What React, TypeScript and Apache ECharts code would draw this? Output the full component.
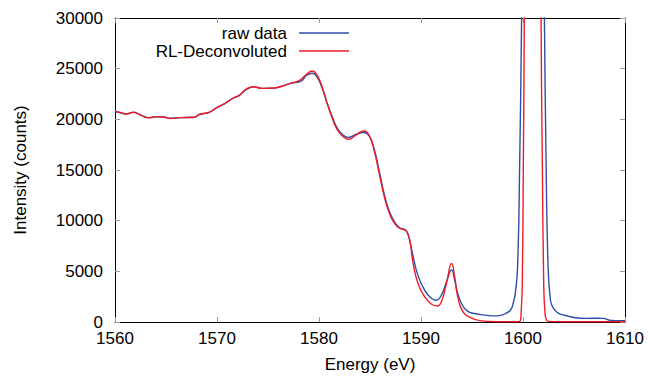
import React, { useEffect, useRef } from "react";
import * as echarts from "echarts";

// Measured spectrum (eV, counts)
const rawEnergy = [
  1560.0, 1560.5, 1561.1, 1561.8, 1562.5, 1563.3, 1564.1, 1564.75, 1565.4, 1566.4,
  1567.7, 1568.35, 1569.2, 1570.0, 1570.8, 1571.65, 1572.15, 1572.97, 1573.6, 1574.4,
  1575.55, 1576.2, 1577.2, 1578.2, 1578.8, 1579.35, 1579.8, 1580.3, 1580.8, 1581.3,
  1581.8, 1582.3, 1582.9, 1583.6, 1584.4, 1584.9, 1585.4, 1585.9, 1586.4, 1586.9,
  1587.4, 1587.9, 1588.4, 1588.7, 1589.2, 1589.7, 1590.35, 1591.0, 1591.5, 1592.0,
  1592.5, 1593.0, 1593.3, 1593.6, 1594.1, 1594.6, 1595.1, 1596.1, 1597.4, 1598.0,
  1598.4, 1598.8, 1599.05, 1599.25, 1599.47, 1599.67, 1599.86, 1600.1, 1600.5, 1601.0,
  1601.5, 1601.9, 1602.1, 1602.27, 1602.46, 1602.69, 1602.9, 1603.11, 1603.5, 1604.0,
  1605.0, 1606.3, 1607.2, 1607.9, 1608.4, 1608.9, 1609.5, 1610.0,
];
const rawCounts = [
  20780, 20650, 20530, 20690, 20430, 20170, 20260, 20230, 20100, 20170,
  20200, 20500, 20660, 21150, 21580, 22120, 22340, 23000, 23200, 23060,
  23080, 23220, 23550, 23750, 24350, 24550, 24200, 23100, 21600, 20250,
  19100, 18500, 18220, 18500, 18700, 18400, 17100, 14900, 12600, 10900,
  9900, 9300, 9140, 8750, 6600, 4600, 3160, 2340, 2150, 2660,
  3980, 5130, 4140, 2830, 1580, 1050, 860, 700, 600, 700,
  900, 1200, 1900, 2900, 5460, 15330, 29800, 52000, 85000, 95000,
  85000, 52000, 30000, 15330, 5460, 2170, 1500, 1180, 850, 690,
  450, 360, 370, 360, 200, 140, 130, 130,
];

// Richardson-Lucy deconvoluted spectrum (eV, counts)
const rlEnergy = [
  1560.0, 1560.5, 1561.1, 1561.8, 1562.5, 1563.3, 1564.1, 1564.75, 1565.4, 1566.4,
  1567.7, 1568.35, 1569.2, 1570.0, 1570.8, 1571.65, 1572.15, 1572.97, 1573.6, 1574.4,
  1575.55, 1576.2, 1577.2, 1578.06, 1578.7, 1579.35, 1579.8, 1580.3, 1580.8, 1581.3,
  1581.8, 1582.3, 1582.9, 1583.6, 1584.4, 1584.9, 1585.4, 1585.9, 1586.4, 1586.9,
  1587.4, 1587.9, 1588.4, 1588.6, 1588.9, 1589.2, 1589.7, 1590.35, 1591.0, 1591.6,
  1592.0, 1592.5, 1593.0, 1593.3, 1593.6, 1594.1, 1594.8, 1595.8, 1596.8, 1597.7,
  1598.7, 1599.4, 1599.73, 1599.83, 1599.93, 1600.03, 1600.13, 1600.5, 1600.95, 1601.4,
  1601.77, 1601.9, 1602.03, 1602.15, 1602.3, 1602.6, 1603.5, 1605.0, 1607.0, 1608.0,
  1610.0,
];
const rlCounts = [
  20800, 20680, 20530, 20700, 20420, 20150, 20270, 20230, 20080, 20170,
  20180, 20530, 20680, 21190, 21580, 22140, 22340, 23060, 23220, 23060,
  23090, 23220, 23550, 23820, 24370, 24770, 24370, 23220, 21580, 20100,
  18950, 18360, 18030, 18450, 18850, 18450, 16970, 14670, 12370, 10720,
  9740, 9250, 9080, 8910, 8090, 5950, 3820, 2500, 1780, 1580,
  2000, 3820, 5790, 4470, 2500, 1020, 460, 130, 50, 30,
  20, 20, 100, 1180, 3800, 15330, 30000, 120000, 200000, 120000,
  30000, 15330, 3800, 1000, 200, 60, 30, 20, 30, 30,
  20,
];

const xTicks = { min: 1560, max: 1610, interval: 10 };
const yTicks = { min: 0, max: 30000, interval: 5000 };

const FONT = "'Liberation Sans', Arial, Helvetica, sans-serif";
const RAW_COLOR = "#2e4fa6";
const RL_COLOR = "#ee1c25";

const pairs = (xs: number[], ys: number[]) => xs.map((x, i) => [x, ys[i]]);
const plain = (v: number) => String(v);

export default function App() {
  const ref = useRef<HTMLDivElement>(null);

  useEffect(() => {
    if (!ref.current) return;
    const chart = echarts.init(ref.current, undefined, { renderer: "svg" });

    const tick = { show: true, inside: true, length: 5, lineStyle: { color: "#9a9a9a", width: 1 } };
    const line = { show: true, onZero: false, lineStyle: { color: "#000", width: 1 } };

    chart.setOption({
      animation: false,
      backgroundColor: "#fff",
      textStyle: { fontFamily: FONT },
      grid: { left: 115, right: 23, top: 18, bottom: 56, containLabel: false },
      legend: {
        orient: "vertical",
        align: "right",
        right: 299,
        top: 24,
        padding: 0,
        itemGap: 0,
        itemWidth: 50,
        itemHeight: 1.5,
        icon: "rect",
        textStyle: { fontSize: 17, color: "#000", fontFamily: FONT, lineHeight: 18, padding: [0, 7, 0, 0] },
        data: [
          { name: "raw data", itemStyle: { color: RAW_COLOR } },
          { name: "RL-Deconvoluted", itemStyle: { color: RL_COLOR } },
        ],
      },
      xAxis: [
        {
          type: "value",
          position: "bottom",
          ...xTicks,
          axisLine: line,
          axisTick: tick,
          splitLine: { show: false },
          axisLabel: { fontSize: 17, color: "#000", margin: 8, fontFamily: FONT, formatter: plain },
          name: "Energy (eV)",
          nameLocation: "middle",
          nameGap: 34,
          nameTextStyle: { fontSize: 17, color: "#000", fontFamily: FONT },
        },
        {
          type: "value",
          position: "top",
          ...xTicks,
          axisLine: line,
          axisTick: tick,
          splitLine: { show: false },
          axisLabel: { show: false },
        },
      ],
      yAxis: [
        {
          type: "value",
          position: "left",
          ...yTicks,
          axisLine: line,
          axisTick: tick,
          splitLine: { show: false },
          axisLabel: { fontSize: 17, color: "#000", margin: 12, fontFamily: FONT, formatter: plain },
          name: "Intensity (counts)",
          nameLocation: "middle",
          nameGap: 86,
          nameTextStyle: { fontSize: 17, color: "#000", fontFamily: FONT },
        },
        {
          type: "value",
          position: "right",
          ...yTicks,
          axisLine: line,
          axisTick: tick,
          splitLine: { show: false },
          axisLabel: { show: false },
        },
      ],
      series: [
        {
          name: "raw data",
          type: "line",
          data: pairs(rawEnergy, rawCounts),
          symbol: "none",
          smooth: 0.5,
          clip: true,
          lineStyle: { color: RAW_COLOR, width: 1.4 },
          itemStyle: { color: RAW_COLOR },
          z: 2,
        },
        {
          name: "RL-Deconvoluted",
          type: "line",
          data: pairs(rlEnergy, rlCounts),
          symbol: "none",
          smooth: 0.5,
          clip: true,
          lineStyle: { color: RL_COLOR, width: 1.4 },
          itemStyle: { color: RL_COLOR },
          z: 3,
        },
      ],
    });

    return () => chart.dispose();
  }, []);

  return (
    <div
      ref={ref}
      style={{ position: "fixed", left: 0, top: 0, width: 648, height: 378, background: "#fff" }}
    />
  );
}
